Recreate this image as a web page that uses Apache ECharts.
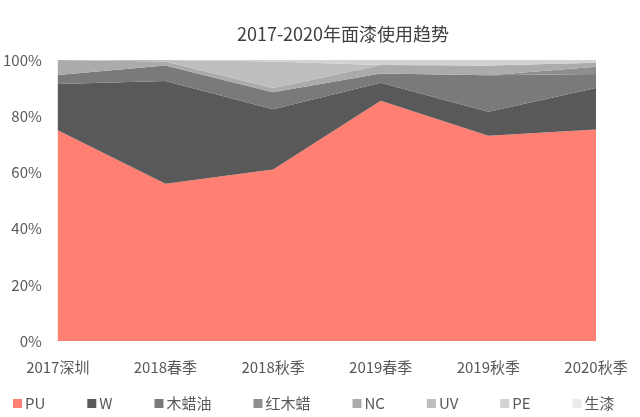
<!DOCTYPE html>
<html><head><meta charset="utf-8">
<script src="https://cdn.jsdelivr.net/npm/echarts@6/dist/echarts.min.js"></script>
<style>html,body{margin:0;padding:0;background:#fff}#c{width:640px;height:417px}</style>
</head><body><div id="c"></div>
<script>
var categories = ['2017深圳', '2018春季', '2018秋季', '2019春季', '2019秋季', '2020秋季'];
var seriesNames = ['PU', 'W', '木蜡油', '红木蜡', 'NC', 'UV', 'PE', '生漆'];
var PU    = [75, 56, 61, 85.5, 73, 75.3];
var W     = [16.5, 36.5, 21.5, 6.4, 8.6, 14.7];
var muLaYou = [3.2, 5.5, 6, 3.3, 13, 5];
var hongMuLa = [0, 0, 0, 0, 0, 2.6];
var NC    = [5.3, 1.5, 1.5, 3, 3.4, 1.4];
var UV    = [0, 0.5, 9.5, 0, 0, 0];
var PE    = [0, 0, 0.5, 1.8, 2, 1];
var shengQi = [0, 0, 0, 0, 0, 0];
var yTicks = ['0%', '20%', '40%', '60%', '80%', '100%'];

var dataSets = [PU, W, muLaYou, hongMuLa, NC, UV, PE, shengQi];
var colors = ['#FF7F72', '#595959', '#7A7A7A', '#8E8E8E', '#ABABAB', '#BEBEBE', '#D2D2D2', '#EBEBEB'];

var chart = echarts.init(document.getElementById('c'));
chart.setOption({
  animation: false,
  title: {
    text: '2017-2020年面漆使用趋势',
    left: 338, top: 20, textAlign: 'center',
    textStyle: {fontFamily: 'Noto Sans CJK SC', fontSize: 18, fontWeight: 'normal', color: '#404040'}
  },
  legend: {
    left: 8, top: 391, itemWidth: 9, itemHeight: 9, itemGap: 42,
    icon: 'rect',
    textStyle: {fontFamily: 'Noto Sans CJK SC', fontSize: 15, color: '#595959', padding: [0,0,0,-2]},
    data: seriesNames
  },
  grid: {left: 56, right: 44, top: 60, bottom: 76},
  xAxis: {
    type: 'category', data: categories, boundaryGap: false,
    axisLine: {show: false}, axisTick: {show: false},
    axisLabel: {fontFamily: 'Noto Sans CJK SC', fontSize: 15, color: '#595959', margin: 19}
  },
  yAxis: {
    type: 'value', min: 0, max: 100, interval: 20,
    splitLine: {show: false}, axisLine: {show: false}, axisTick: {show: false},
    axisLabel: {fontFamily: 'Noto Sans CJK SC', fontSize: 15, color: '#595959', margin: 16,
      formatter: function (v) { return yTicks[Math.round(v / 20)]; }}
  },
  series: seriesNames.map(function (n, i) {
    return {
      name: n, type: 'line', stack: 'total', data: dataSets[i],
      symbol: 'none', lineStyle: {width: 0}, itemStyle: {color: colors[i]},
      areaStyle: {color: colors[i], opacity: 1}
    };
  })
});
</script></body></html>
